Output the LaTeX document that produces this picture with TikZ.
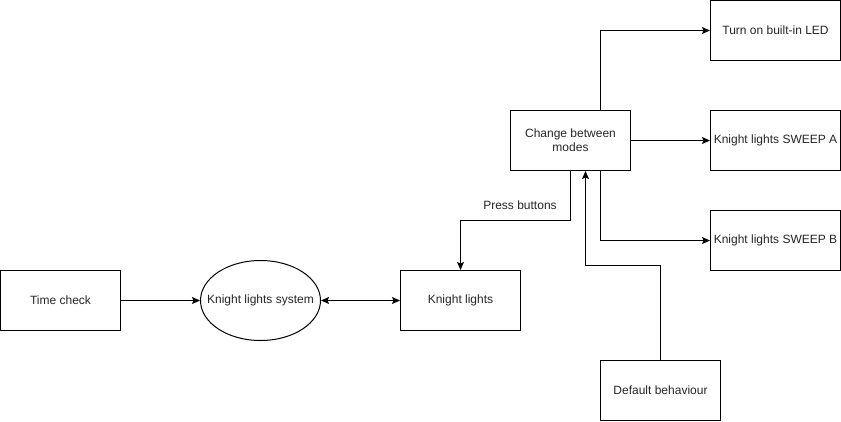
\documentclass[tikz,border=0pt]{standalone}
\usepackage{fontspec}
\setmainfont{Liberation Sans}
\usetikzlibrary{arrows.meta,shapes.geometric}
\begin{document}
\begin{tikzpicture}[x=1pt,y=-1pt,
  box/.style={draw,line width=1pt,minimum width=120pt,minimum height=60pt,inner sep=1pt,align=center,font=\fontsize{12pt}{14pt}\selectfont,text=black!85},
  widebox/.style={box,minimum width=130pt},
  oval/.style={draw,ellipse,line width=1pt,minimum width=120pt,minimum height=80pt,inner sep=0pt,font=\fontsize{12pt}{14pt}\selectfont,text=black!85},
  conn/.style={line width=1pt,-{Stealth[length=8pt,width=7pt,inset=1.5pt]}},
  lbl/.style={font=\fontsize{12pt}{14pt}\selectfont,text=black!85}]
\useasboundingbox (0,0) rectangle (841,421);
\fill[white] (0,0) rectangle (841,421);
\node[box] (tc) at (60.5,300.5) {Time check};
\node[oval] (sys) at (260.5,300.5) {\makebox[0pt]{Knight lights system}};
\node[box] (kl) at (460.5,300.5) {Knight lights};
\node[box] (cm) at (570.5,140.5) {Change between\\modes};
\node[widebox] (led) at (775.5,30.5) {Turn on built-in LED};
\node[widebox] (sa) at (775.5,140.5) {\makebox[0pt]{Knight lights SWEEP A}};
\node[widebox] (sb) at (775.5,240.5) {\makebox[0pt]{Knight lights SWEEP B}};
\node[box] (db) at (660.5,390.5) {Default behaviour};
\coordinate (p1) at (570.5,220.5);
\coordinate (p2) at (460.5,220.5);
\coordinate (q1) at (660.5,265.5);
\coordinate (q2) at (585.5,265.5);
\draw[conn] (tc.east) -- (sys.west);
\draw[line width=1pt,{Stealth[length=8pt,width=7pt,inset=1.5pt]}-{Stealth[length=8pt,width=7pt,inset=1.5pt]}] (sys.east) -- (kl.west);
\draw[conn] (cm.south) -- (p1) -- (p2) -- (kl.north);
\node[lbl] (pb) at (520,205) {Press buttons};
\draw[conn] ([xshift=30pt]cm.north) |- (led.west);
\draw[conn] (cm.east) -- (sa.west);
\draw[conn] ([xshift=30pt]cm.south) |- (sb.west);
\draw[conn] (db.north) -- (q1) -- (q2) -- (q2 |- cm.south);
\end{tikzpicture}
\end{document}
